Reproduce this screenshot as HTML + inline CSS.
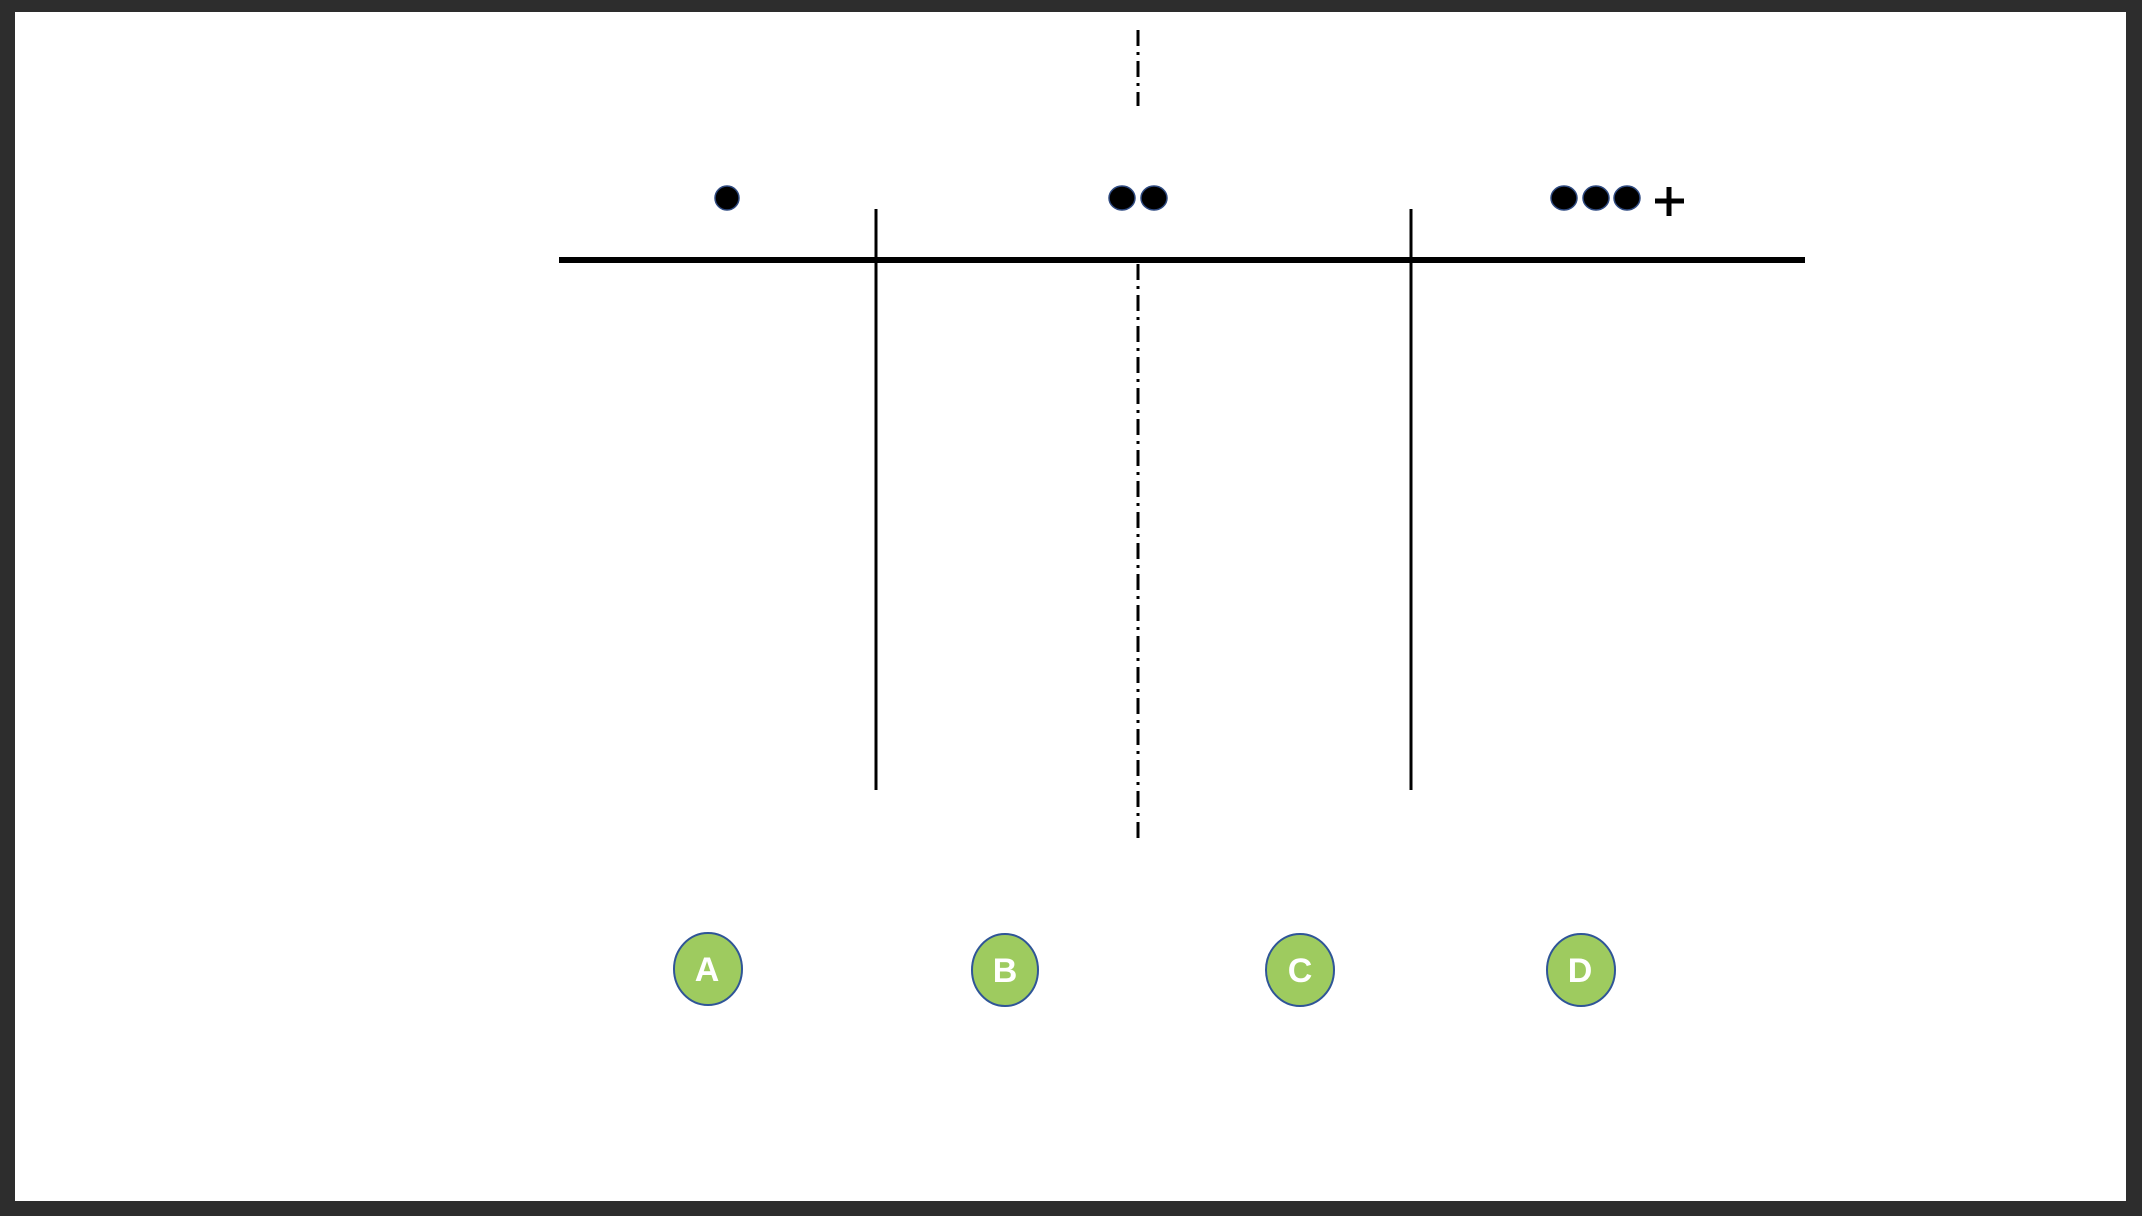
<!DOCTYPE html>
<html><head><style>
html,body{margin:0;padding:0;background:#2d2d2d;}
svg{display:block}
</style></head><body>
<svg width="2142" height="1216" viewBox="0 0 2142 1216" xmlns="http://www.w3.org/2000/svg">
<rect x="0" y="0" width="2142" height="1216" fill="#2d2d2d"/>
<rect x="15" y="12" width="2111" height="1189" fill="#ffffff"/>
<line x1="559" y1="260" x2="1805" y2="260" stroke="#000" stroke-width="6"/>
<line x1="876" y1="209" x2="876" y2="790" stroke="#000" stroke-width="3"/>
<line x1="1411" y1="209" x2="1411" y2="790" stroke="#000" stroke-width="3"/>
<line x1="1138" y1="30" x2="1138" y2="106" stroke="#000" stroke-width="3" stroke-dasharray="16,6,3,6"/>
<line x1="1138" y1="264" x2="1138" y2="842" stroke="#000" stroke-width="3" stroke-dasharray="16,6,3,6"/>
<g fill="#000" stroke="#2f4a80" stroke-width="1.5">
<ellipse cx="727" cy="198" rx="12" ry="12"/>
<ellipse cx="1122" cy="198" rx="13" ry="12"/>
<ellipse cx="1154" cy="198" rx="13" ry="12"/>
<ellipse cx="1564" cy="198" rx="13" ry="12"/>
<ellipse cx="1596" cy="198" rx="13" ry="12"/>
<ellipse cx="1627" cy="198" rx="13" ry="12"/>
</g>
<line x1="1669" y1="187" x2="1669" y2="216" stroke="#000" stroke-width="5"/>
<line x1="1655" y1="201" x2="1684" y2="201" stroke="#000" stroke-width="5"/>
<g fill="#9ecb5f" stroke="#2f5597" stroke-width="2">
<ellipse cx="708" cy="969" rx="34" ry="36"/>
<ellipse cx="1005" cy="970" rx="33" ry="36"/>
<ellipse cx="1300" cy="970" rx="34" ry="36"/>
<ellipse cx="1581" cy="970" rx="34" ry="36"/>
</g>
<g fill="#fff" font-family="Liberation Sans, sans-serif" font-weight="bold" font-size="34" text-anchor="middle">
<text x="707" y="981">A</text>
<text x="1005" y="982">B</text>
<text x="1300" y="982">C</text>
<text x="1580" y="982">D</text>
</g>
</svg>
</body></html>
